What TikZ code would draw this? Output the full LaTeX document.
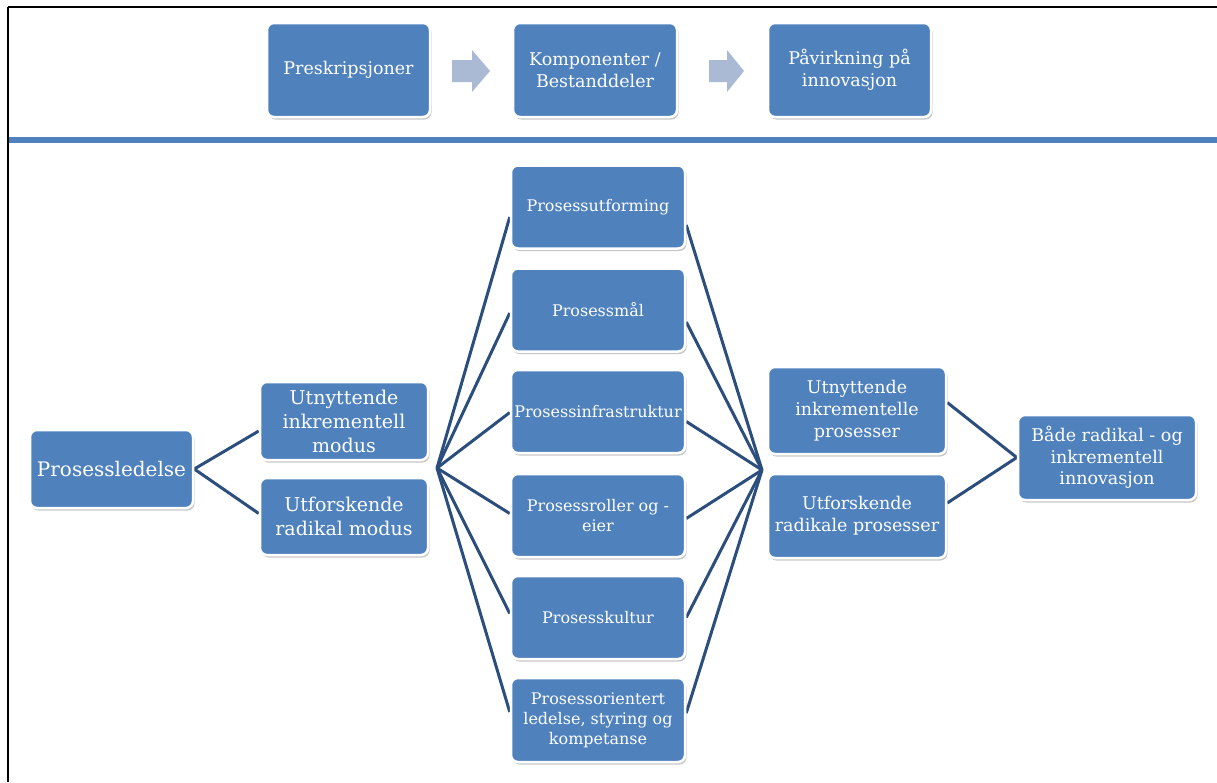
\documentclass[tikz,border=0pt]{standalone}
\usepackage{fontspec}
\setmainfont{DejaVu Serif}
\usetikzlibrary{shadows,backgrounds}
\definecolor{boxblue}{RGB}{79,129,189}
\definecolor{connblue}{RGB}{44,78,125}
\definecolor{arrowblue}{RGB}{170,186,212}
\newcommand{\fsTop}{\fontsize{17.5}{21.5}\selectfont}
\newcommand{\fsRoot}{\fontsize{20}{24}\selectfont}
\newcommand{\fsMode}{\fontsize{19}{24}\selectfont}
\newcommand{\fsMid}{\fontsize{16}{20}\selectfont}
\newcommand{\fsOut}{\fontsize{17.5}{21.7}\selectfont}
\tikzset{
  box/.style={rounded corners=7pt, fill=boxblue, draw=white, line width=2.5pt,
    text=white, align=center, inner sep=1pt,
    drop shadow={shadow xshift=1.5pt, shadow yshift=-2.5pt, opacity=0.3, fill=black!70}},
  conn/.style={draw=connblue, line width=3pt},
  blockarrow/.style={fill=arrowblue},
  frameline/.style={draw=black, line width=1.6pt},
}
\begin{document}
\begin{tikzpicture}[x=1pt,y=-1pt]
\useasboundingbox (0,0) rectangle (1217,782);

% top row
\node[box, minimum width=163pt, minimum height=94pt, font=\fsTop] (t1) at (348.5,70) {Preskripsjoner};
\node[box, minimum width=164pt, minimum height=94pt, font=\fsTop] (t2) at (595,70) {Komponenter /\\Bestanddeler};
\node[box, minimum width=163pt, minimum height=94pt, font=\fsTop] (t3) at (849.5,70) {Påvirkning på\\innovasjon};

% main diagram
\node[box, minimum width=163pt, minimum height=78pt, font=\fsRoot] (pl) at (111.5,469) {Prosessledelse};
\node[box, minimum width=168pt, minimum height=78pt, font=\fsMode] (m1) at (344,421) {Utnyttende\\inkrementell\\modus};
\node[box, minimum width=168pt, minimum height=77pt, font=\fsMode] (m2) at (344,516.5) {Utforskende\\radikal modus};

\node[box, minimum width=174pt, minimum height=83pt, font=\fsMid] (c1) at (598,207) {Prosessutforming};
\node[box, minimum width=174pt, minimum height=83pt, font=\fsMid] (c2) at (598,310) {Prosessmål};
\node[box, minimum width=174pt, minimum height=83pt, font=\fsMid] (c3) at (598,411.5) {Prosessinfrastruktur};
\node[box, minimum width=174pt, minimum height=83pt, font=\fsMid] (c4) at (598,515.5) {Prosessroller og -\\eier};
\node[box, minimum width=174pt, minimum height=83pt, font=\fsMid] (c5) at (598,617.5) {Prosesskultur};
\node[box, minimum width=174pt, minimum height=84pt, font=\fsMid] (c6) at (598,720) {Prosessorientert\\ledelse, styring og\\kompetanse};

\node[box, minimum width=178pt, minimum height=87pt, font=\fsOut] (p1) at (857,410.5) {Utnyttende\\inkrementelle\\prosesser};
\node[box, minimum width=178pt, minimum height=84pt, font=\fsOut] (p2) at (857,516) {Utforskende\\radikale prosesser};
\node[box, minimum width=178pt, minimum height=85pt, font=\fsOut] (b) at (1107,457.5) {Både radikal - og\\inkrementell\\innovasjon};

\coordinate (hubL) at (437,468);
\coordinate (hubR) at (762,470);

\begin{pgfonlayer}{background}
  \fill[white] (0,0) rectangle (1217,782);
  % frame
  \draw[frameline] (8,7) -- (1217,7);
  \draw[frameline] (8,7) -- (8,782);
  % separator bar
  \fill[boxblue] (9,137) rectangle (1217,143);
  % block arrows
  \fill[blockarrow] (452,60) -- (472,60) -- (472,50) -- (490,71) -- (472,92) -- (472,82) -- (452,82) -- cycle;
  \fill[blockarrow] (709,60) -- (727,60) -- (727,50) -- (744,71) -- (727,92) -- (727,82) -- (709,82) -- cycle;
  % connectors
  \draw[conn] (pl.east) -- ([yshift=-10pt]m1.west);
  \draw[conn] (pl.east) -- ([yshift=3pt]m2.west);
  \draw[conn] (hubL) -- ([yshift=-10pt]c1.west);
  \draw[conn] (hubL) -- ([yshift=-3pt]c2.west);
  \draw[conn] (hubL) -- ([yshift=-1pt]c3.west);
  \draw[conn] (hubL) -- ([yshift=2pt]c4.west);
  \draw[conn] (hubL) -- ([yshift=4pt]c5.west);
  \draw[conn] (hubL) -- ([yshift=8pt]c6.west);
  \draw[conn] ([yshift=-18pt]c1.east) -- (hubR);
  \draw[conn] ([yshift=-12pt]c2.east) -- (hubR);
  \draw[conn] ([yshift=-10pt]c3.east) -- (hubR);
  \draw[conn] ([yshift=-3pt]c4.east) -- (hubR);
  \draw[conn] (c5.east) -- (hubR);
  \draw[conn] ([yshift=7pt]c6.east) -- (hubR);
  \draw[conn] ([yshift=8pt]p1.east) -- (b.west);
  \draw[conn] ([yshift=13pt]p2.east) -- (b.west);
\end{pgfonlayer}
\end{tikzpicture}
\end{document}
